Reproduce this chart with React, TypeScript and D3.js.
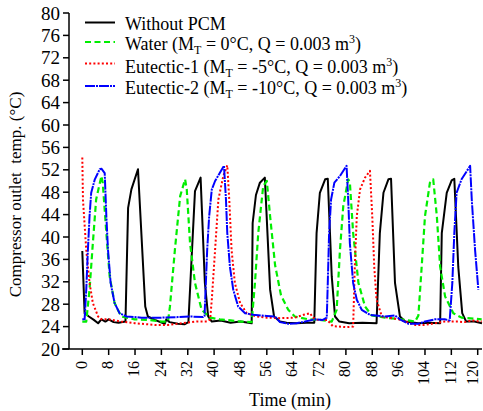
import React from "react";
import * as d3 from "d3";

const xTicks = [0, 8, 16, 24, 32, 40, 48, 56, 64, 72, 80, 88, 96, 104, 112, 120];
const yTicks = [20, 24, 28, 32, 36, 40, 44, 48, 52, 56, 60, 64, 68, 72, 76, 80];

const withoutPcm: [number, number][] = [
  [0, 37.5], [0.7, 26.4], [2, 25.8], [3.5, 25.2], [4.8, 24.6], [5.8, 25.3], [7, 24.9], [8, 25.3], [9.5, 24.8], [11, 24.7],
  [13.1, 24.9], [13.9, 45.2], [14.9, 48.5], [16.9, 52.1], [19.1, 27.6], [19.9, 25.8], [22, 25.2], [25, 24.5], [25.5, 25.3],
  [26.5, 24.8], [29, 24.5], [31, 24.4], [32.2, 24.8], [34.2, 48.2], [35.9, 50.6], [37.2, 31.8], [38.2, 25.8], [39.3, 24.9],
  [42, 25.1], [45, 24.7], [48, 24.9], [51.4, 24.6], [51.7, 42.5], [52.7, 47.5], [53.9, 49.7], [55.4, 50.6], [57, 30.6],
  [58.2, 25.8], [60, 24.9], [62, 24.7], [65, 24.6], [68, 24.7], [70.4, 24.7], [71.1, 40.7], [72.1, 47.9], [73.7, 50.3],
  [74.5, 50.4], [75.7, 33], [76.7, 25.8], [78, 24.9], [81, 24.6], [85, 24.7], [89.3, 24.6], [90.3, 40.7], [91.4, 47.9],
  [92.9, 50.3], [93.7, 50.4], [94.9, 31.8], [96.4, 25.8], [98, 24.9], [102, 24.6], [105, 24.7], [108.6, 24.6], [109.1, 40.7],
  [110.6, 47.9], [112.1, 50.1], [112.9, 50.4], [114.1, 34.7], [115.3, 26.4], [116.5, 24.9], [119, 24.9], [121.3, 24.6],
];

const water: [number, number][] = [
  [0, 24.9], [1.2, 24.9], [2.2, 30.6], [3.2, 38.9], [4.2, 46.7], [5.8, 50.9], [6.2, 49.7], [7.3, 40.7], [8.3, 33],
  [9.8, 28.2], [11.8, 25.8], [15.9, 25.3], [20, 25.2], [24, 24.9], [26, 24.9], [26.6, 27.6], [28.1, 37.7], [29.7, 47.3],
  [31.2, 50.3], [31.7, 48.5], [32.7, 38.9], [34.2, 31.8], [36.2, 27], [38.8, 25.6], [41.7, 25.3], [45, 25.1], [48, 24.9],
  [51.4, 24.8], [52.4, 31.8], [53.4, 40.7], [54.9, 49.1], [56, 50], [57, 43.7], [58.5, 35], [60.3, 29.6], [62.5, 27],
  [64.5, 25.8], [68.6, 25.3], [72, 25.2], [75.7, 24.9], [77.2, 27], [78.2, 37.7], [79.2, 45.5], [80.7, 50.3], [81.2, 49.8],
  [82.2, 40.7], [83.8, 31.8], [85.8, 27.6], [87.8, 26], [91.9, 25.6], [96.9, 25.3], [101, 24.9], [102, 26], [103, 34.7],
  [104, 43.7], [105.5, 49.7], [106.5, 50.3], [107.6, 43.7], [108.6, 34.7], [110.1, 29.4], [112.6, 26.4], [115.1, 25.6],
  [121.2, 25.3],
];

const eutectic1: [number, number][] = [
  [0, 54.2], [0.2, 46.7], [1.2, 37.7], [2.2, 31.8], [3.2, 28.2], [4.8, 25.8], [5.8, 25.3], [8, 25.3], [11.8, 24.9],
  [15.9, 24.6], [22, 24.3], [26, 24.3], [29, 24.5], [34.7, 24.9], [37.8, 24.9], [38.8, 25.3], [39.3, 28.8], [40.3, 37.7],
  [41.3, 46.7], [42.8, 50.9], [44, 52.8], [44.6, 46.7], [45.3, 37.7], [46.3, 31.8], [47.9, 28.2], [49.9, 26.4], [52.9, 25.8],
  [56, 25.6], [60, 25.5], [64.5, 25.6], [67.1, 26.1], [69.1, 26.4], [70, 25.6], [71.5, 25.2], [74.3, 25.2], [76, 24.1],
  [80, 23.9], [82.2, 24], [82.7, 34.7], [83.3, 43.7], [84.3, 48.5], [85.8, 50.6], [87.3, 51.8], [88, 43.7], [88.6, 34.7],
  [89.3, 28.8], [90.9, 25.8], [93, 25.6], [96, 25.3], [98, 24.9], [101, 24.3], [104, 24.3], [107, 24.6], [110, 24.9],
  [114, 24.9], [116, 24.8], [118.2, 25.1], [121.2, 24.9],
];

const eutectic2: [number, number][] = [
  [0, 25.3], [0.7, 25.3], [1.2, 30.6], [1.7, 37.7], [2.2, 43.7], [2.7, 47.9], [3.8, 50.3], [5.3, 52.1], [5.8, 52.2],
  [6.8, 51.4], [7.3, 43.7], [7.8, 37.7], [8.6, 31.8], [9.8, 28.2], [11.3, 26.4], [13.4, 25.8], [18, 25.6], [24, 25.6],
  [29, 25.7], [33, 25.8], [36.7, 25.7], [37.1, 25.9], [37.5, 31.8], [37.9, 37.7], [38.5, 43.7], [39.3, 48.5], [40.3, 50],
  [41.8, 51.5], [43, 52.7], [43.6, 46.7], [44, 40.7], [44.8, 34.7], [45.8, 30.6], [47.3, 27.6], [49.4, 26.4], [51.9, 26.1],
  [56, 25.9], [58.5, 25.8], [60, 24.8], [62.5, 24.5], [65, 24.6], [67.6, 24.9], [70.6, 25.3], [73, 25.2], [74.2, 25.6],
  [74.5, 31.8], [74.9, 40.7], [75.5, 46.7], [76.5, 49.7], [78.2, 50.9], [80.2, 52.7], [80.7, 46.7], [81.2, 38.9],
  [82.2, 31.8], [83.3, 28.8], [84.8, 27], [87.3, 26.1], [91.9, 25.8], [94.9, 26], [96.4, 25.3], [99, 24.5], [102, 24.5],
  [104, 24.9], [107, 25.3], [110, 25.3], [111.5, 25.1], [112.3, 31.8], [112.9, 40.7], [113.6, 47.9], [115.1, 50.3],
  [117.7, 52.7], [118.2, 46.7], [119.2, 37.7], [120.2, 30.6],
];

const W = 483;
const H = 411;
const FONT = "'Liberation Serif', 'Times New Roman', serif";

export default function App() {
  const x = d3.scaleLinear().domain([0, 120]).range([82.3, 477.7]);
  const y = d3.scaleLinear().domain([20, 80]).range([349, 13]);
  const xLeft = 69;
  const xRight = 482;
  const line = d3
    .line<[number, number]>()
    .x((d) => x(d[0]))
    .y((d) => y(d[1]));

  const blueDash = "10,1,2,1";
  const series = [
    { data: withoutPcm, color: "#000000", dash: "none", width: 2 },
    { data: water, color: "#00ee00", dash: "6,3.5", width: 2.2 },
    { data: eutectic1, color: "#ff0000", dash: "2,2.2", width: 2 },
    { data: eutectic2, color: "#0000ff", dash: blueDash, width: 2 },
  ];

  const legendRows = [
    { y: 30, ly: 22.5, color: "#000000", dash: "none" },
    { y: 50, ly: 42, color: "#00ee00", dash: "6,3.5" },
    { y: 72.5, ly: 63.5, color: "#ff0000", dash: "2,2.2" },
    { y: 94, ly: 86, color: "#0000ff", dash: blueDash },
  ];

  const sub = (t: string) => (
    <tspan fontSize={12} dy={4}>{t}</tspan>
  );
  const sup = (t: string) => (
    <tspan fontSize={12} dy={-7}>{t}</tspan>
  );

  const xFs = 16;
  const xLabelX = (t: number) => Math.min(x(t) - 1, W - 0.56 * xFs - 1.5);

  return (
    <svg
      width={W}
      height={H}
      style={{ position: "absolute", left: 0, top: 0, background: "#fff" }}
      fontFamily={FONT}
    >
      <rect x={0} y={0} width={W} height={H} fill="#fff" />
      {series.map((s, i) => (
        <path
          key={i}
          d={line(s.data) || ""}
          fill="none"
          stroke={s.color}
          strokeWidth={s.width}
          strokeDasharray={s.dash}
          strokeLinejoin="round"
        />
      ))}
      <line x1={xLeft} x2={xLeft} y1={y(80)} y2={y(20)} stroke="#000" strokeWidth={1.5} />
      <line x1={xLeft - 7} x2={xRight} y1={y(20)} y2={y(20)} stroke="#000" strokeWidth={1.5} />
      {yTicks.map((t) => (
        <g key={t}>
          <line x1={xLeft - 6} x2={xLeft} y1={y(t)} y2={y(t)} stroke="#000" strokeWidth={1.5} />
          <text x={xLeft - 9} y={y(t)} dy="0.35em" textAnchor="end" fontSize={19}>
            {t}
          </text>
        </g>
      ))}
      {xTicks.map((t) => (
        <g key={t}>
          <line x1={x(t)} x2={x(t)} y1={y(20)} y2={y(20) + 6} stroke="#000" strokeWidth={1.5} />
          <text
            transform={`translate(${xLabelX(t)},${y(20) + 12}) rotate(-90)`}
            dy="0.33em"
            textAnchor="end"
            fontSize={xFs}
          >
            {t}
          </text>
        </g>
      ))}
      <text x={(x(0) + x(120)) / 2 + 10} y={406} textAnchor="middle" fontSize={18}>
        Time (min)
      </text>
      <text
        transform={`translate(15,${(297 + 92) / 2}) rotate(-90)`}
        dy="0.35em"
        textAnchor="middle"
        fontSize={17}
        style={{ whiteSpace: "pre" }}
      >
        {"Compressor outlet  temp. (°C)"}
      </text>
      {legendRows.map((r, i) => (
        <line key={i} x1={85} x2={115} y1={r.ly} y2={r.ly} stroke={r.color} strokeWidth={2} strokeDasharray={r.dash} />
      ))}
      <text x={125} y={legendRows[0].y} fontSize={18}>Without PCM</text>
      <text x={125} y={legendRows[1].y} fontSize={18}>
        Water (M{sub("T")}<tspan dy={-4}> = 0°C, Q = 0.003 m</tspan>{sup("3")}<tspan dy={7}>)</tspan>
      </text>
      <text x={125} y={legendRows[2].y} fontSize={18}>
        Eutectic-1 (M{sub("T")}<tspan dy={-4}> = -5°C, Q = 0.003 m</tspan>{sup("3")}<tspan dy={7}>)</tspan>
      </text>
      <text x={125} y={legendRows[3].y} fontSize={18}>
        Eutectic-2 (M{sub("T")}<tspan dy={-4}> = -10°C, Q = 0.003 m</tspan>{sup("3")}<tspan dy={7}>)</tspan>
      </text>
    </svg>
  );
}
